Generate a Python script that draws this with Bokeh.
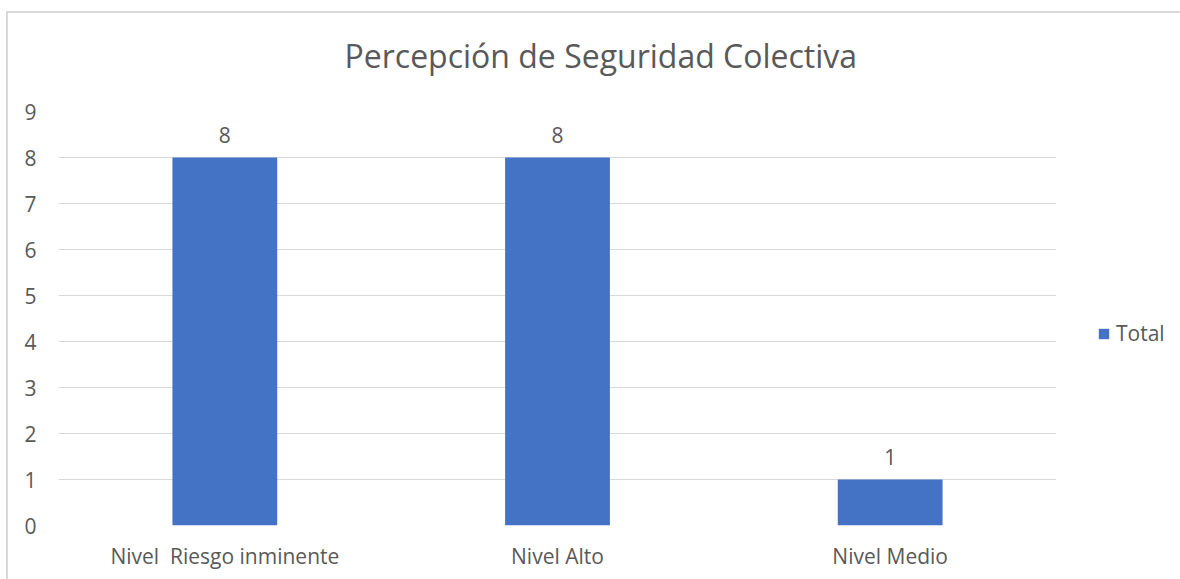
from bokeh.plotting import figure
from bokeh.models import ColumnDataSource, FactorRange, Range1d, FixedTicker, LabelSet, Legend, LegendItem
from bokeh.core.properties import value
from bokeh.embed import file_html
from bokeh.resources import INLINE

categories = ["Nivel \u00a0Riesgo inminente", "Nivel Alto", "Nivel Medio"]
totals = [8, 8, 1]
y_ticks = [0, 1, 2, 3, 4, 5, 6, 7, 8, 9]

FONT = "Open Sans"
TXT = "#595959"
BAR = "#4472C4"
GRID = "#d9d9d9"

source = ColumnDataSource(dict(cat=categories, total=totals, lbl=[str(v) for v in totals]))

p = figure(frame_width=998, frame_height=414, output_backend="svg", toolbar_location=None,
           x_range=FactorRange(factors=categories, range_padding=0),
           y_range=Range1d(0, 9),
           title="Percepción de Seguridad Colectiva")
p.min_border_left = 58
p.min_border_right = 119
p.min_border_top = 110
p.min_border_bottom = 55
p.outline_line_color = None
p.border_fill_alpha = 0
p.background_fill_color = "white"
p.styles = {
    "background-image": "linear-gradient(#d9d9d9, #d9d9d9), linear-gradient(#d9d9d9, #d9d9d9)",
    "background-size": "100% 2px, 2px 100%",
    "background-position": "6px 11px, 6px 11px",
    "background-repeat": "no-repeat",
}

p.title.align = "left"
p.title.vertical_align = "top"
p.title.text_font = FONT
p.title.text_font_size = "32px"
p.title.text_font_style = "normal"
p.title.text_color = TXT
p.title.offset = 286
p.title.standoff = 66

r = p.vbar(x="cat", top="total", width=0.315, source=source, color=BAR, line_color=None)

labels = LabelSet(x="cat", y="total", text="lbl", source=source, text_align="center",
                  text_baseline="middle", y_offset=23, text_font=value(FONT),
                  text_font_size=value("21px"), text_color=value(TXT))
p.add_layout(labels)

p.yaxis.ticker = FixedTicker(ticks=y_ticks)
p.yaxis.axis_line_color = None
p.yaxis.major_tick_line_color = None
p.yaxis.minor_tick_line_color = None
p.yaxis.major_label_standoff = 16
p.yaxis.major_label_text_font = FONT
p.yaxis.major_label_text_font_size = "21px"
p.yaxis.major_label_text_color = TXT

p.xaxis.axis_line_color = None
p.xaxis.major_tick_line_color = None
p.xaxis.minor_tick_line_color = None
p.xaxis.major_label_standoff = 10
p.xaxis.major_label_text_font = FONT
p.xaxis.major_label_text_font_size = "21px"
p.xaxis.major_label_text_color = TXT

p.xgrid.grid_line_color = None
p.ygrid.grid_line_color = GRID
p.ygrid.grid_line_width = 1

legend = Legend(items=[LegendItem(label="Total", renderers=[r])], location=(41, 178),
                border_line_color=None, background_fill_alpha=0, padding=0, margin=0,
                glyph_width=13, glyph_height=13, label_text_font=FONT,
                label_text_font_size="21px", label_text_color=TXT, label_standoff=6,
                label_height=21)
p.add_layout(legend, "right")

open("out.html", "w").write(file_html(p, INLINE))
